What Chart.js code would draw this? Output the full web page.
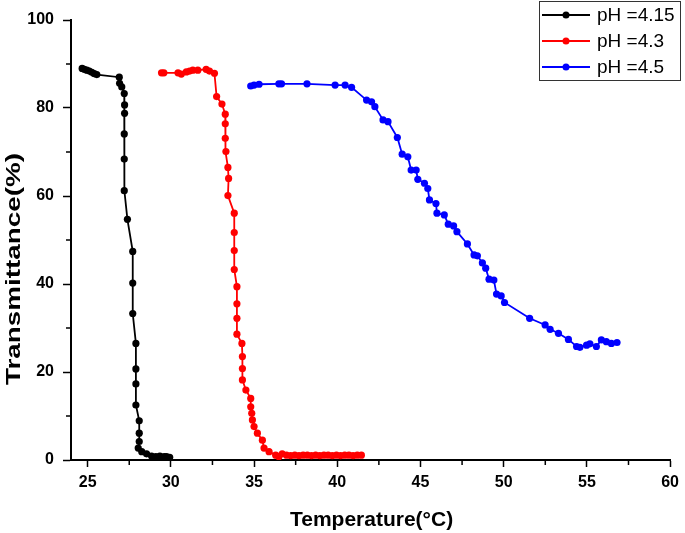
<!DOCTYPE html>
<html><head><meta charset="utf-8">
<script src="https://cdn.jsdelivr.net/npm/chart.js@4/dist/chart.umd.min.js"></script>
<style>html,body{margin:0;padding:0;background:#fff}canvas{display:block}</style>
</head><body>
<canvas id="c" width="685" height="533"></canvas>
<script>
const seriesLabels = ['pH =4.15', 'pH =4.3', 'pH =4.5'];
const seriesColors = ['#000000', '#ff0000', '#0000ff'];

const tempPH415 = [24.67,24.8,24.95,25.1,25.25,25.4,25.55,26.9,26.92,27.05,27.2,27.22,27.22,27.2,27.2,27.2,27.39,27.71,27.71,27.71,27.9,27.9,27.9,27.9,28.1,28.1,28.1,28.04,28.25,28.54,28.84,29.1,29.34,29.6,29.74,29.93];
const transPH415 = [89.0,88.8,88.6,88.4,88.1,87.8,87.6,87.0,85.6,84.8,83.3,80.7,78.8,74.1,68.4,61.2,54.7,47.4,40.2,33.3,26.5,20.7,17.3,12.5,8.9,6.1,4.2,2.7,1.9,1.4,0.9,0.8,0.9,0.8,0.8,0.6];

const tempPH43 = [29.44,29.58,30.43,30.63,30.93,31.13,31.32,31.62,32.12,32.32,32.62,32.75,33.07,33.27,33.27,33.27,33.31,33.43,33.47,33.43,33.81,33.81,33.81,33.81,33.97,33.97,33.97,33.97,34.27,34.3,34.3,34.3,34.51,34.8,34.8,34.86,34.9,35.0,35.2,35.5,35.6,35.9,36.3,36.49,36.69,36.95,37.2,37.45,37.7,37.95,38.2,38.45,38.7,38.95,39.2,39.45,39.7,39.95,40.2,40.45,40.7,40.95,41.2,41.45];
const transPH43 = [88.0,88.0,88.0,87.7,88.2,88.4,88.6,88.6,88.8,88.4,87.9,82.6,80.9,78.6,76.4,73.1,70.1,66.5,64.0,60.1,56.1,51.7,47.6,43.3,39.4,35.5,32.2,28.6,26.5,23.5,20.8,18.2,15.9,14.0,12.1,10.6,9.1,7.6,6.1,4.5,2.7,1.9,1.1,0.75,1.4,1.1,1.0,1.1,1.0,1.1,1.1,1.0,1.1,1.0,1.1,1.1,1.0,1.1,1.0,1.1,1.1,1.0,1.1,1.1];

const tempPH45 = [34.8,35.0,35.3,36.49,36.65,38.18,39.87,40.47,40.86,41.76,42.06,42.26,42.75,43.05,43.61,43.9,44.24,44.44,44.74,44.84,45.24,45.44,45.54,45.93,45.99,46.43,46.67,46.99,47.19,47.82,48.22,48.42,48.72,48.92,49.12,49.41,49.57,49.85,50.05,51.56,52.49,52.79,53.29,53.89,54.38,54.58,54.98,55.18,55.57,55.87,56.17,56.47,56.81];
const transPH45 = [85.0,85.2,85.4,85.5,85.5,85.5,85.2,85.2,84.7,81.8,81.4,80.3,77.3,76.9,73.3,69.5,68.9,65.9,65.9,63.8,62.9,61.7,59.1,58.3,56.1,55.7,53.6,53.2,51.9,49.1,46.6,46.4,44.8,43.6,41.1,40.9,37.7,37.3,35.8,32.2,30.7,29.7,28.8,27.4,25.8,25.6,26.1,26.4,25.8,27.3,26.9,26.5,26.7];

const xMajorTicks = [25, 30, 35, 40, 45, 50, 55, 60];
const xMinorTicks = [27.5, 32.5, 37.5, 42.5, 47.5, 52.5, 57.5];
const yMajorTicks = [0, 20, 40, 60, 80, 100];
const yMinorTicks = [10, 30, 50, 70, 90];
const xTitle = 'Temperature(°C)';
const yTitle = 'Transmittance(%)';

const FONT = '"Liberation Sans", Arial, sans-serif';
const toPts = (xs, ys) => xs.map((x, i) => ({x: x, y: ys[i]}));
const allTemps = [tempPH415, tempPH43, tempPH45];
const allTrans = [transPH415, transPH43, transPH45];

const datasets = seriesLabels.map((lab, i) => ({
  label: lab,
  data: toPts(allTemps[i], allTrans[i]),
  borderColor: seriesColors[i],
  backgroundColor: seriesColors[i],
  pointBackgroundColor: seriesColors[i],
  pointBorderColor: seriesColors[i],
  pointBorderWidth: 0,
  pointRadius: 3.6,
  borderWidth: 1.8,
  tension: 0,
  fill: false
}));

const decor = {
  id: 'decor',
  afterDraw(chart) {
    const ctx = chart.ctx;
    const xs = chart.scales.x, ys = chart.scales.y;
    const ca = chart.chartArea;
    ctx.save();
    ctx.strokeStyle = '#000';
    ctx.lineWidth = 1.5;
    ctx.beginPath();
    xMinorTicks.forEach(v => { const p = xs.getPixelForValue(v); ctx.moveTo(p, ca.bottom); ctx.lineTo(p, ca.bottom + 5); });
    yMinorTicks.forEach(v => { const p = ys.getPixelForValue(v); ctx.moveTo(ca.left, p); ctx.lineTo(ca.left - 5, p); });
    ctx.stroke();

    // axis titles
    ctx.fillStyle = '#000';
    ctx.font = 'bold 21px ' + FONT;
    ctx.textAlign = 'center';
    ctx.textBaseline = 'alphabetic';
    ctx.fillText(xTitle, (ca.left + ca.right) / 2 + 1, 526);

    ctx.save();
    ctx.translate(20, 269);
    ctx.rotate(-Math.PI / 2);
    ctx.font = 'bold 21px ' + FONT;
    const w = ctx.measureText(yTitle).width;
    ctx.scale(232 / w, 1);
    ctx.fillText(yTitle, 0, 0);
    ctx.restore();

    // legend
    ctx.lineWidth = 1;
    ctx.strokeStyle = '#333';
    ctx.strokeRect(539.5, 1.5, 141, 79);
    const rows = [15, 41, 67];
    ctx.font = '19px ' + FONT;
    ctx.textAlign = 'left';
    ctx.textBaseline = 'middle';
    chart.data.datasets.forEach((ds, i) => {
      const y = rows[i];
      ctx.strokeStyle = ds.borderColor;
      ctx.lineWidth = 2;
      ctx.beginPath(); ctx.moveTo(542, y); ctx.lineTo(590, y); ctx.stroke();
      ctx.fillStyle = ds.borderColor;
      ctx.beginPath(); ctx.arc(566, y, 3.5, 0, Math.PI * 2); ctx.fill();
      ctx.fillStyle = '#000';
      ctx.fillText(ds.label, 597, y + 1);
    });
    ctx.restore();
  }
};

new Chart(document.getElementById('c').getContext('2d'), {
  type: 'line',
  data: {datasets: datasets},
  options: {
    responsive: false,
    animation: false,
    layout: {padding: {left: 0, right: 11, top: 20, bottom: 0}},
    plugins: {legend: {display: false}, tooltip: {enabled: false}},
    scales: {
      x: {
        type: 'linear', min: 24, max: 60,
        afterBuildTicks: s => { s.ticks = xMajorTicks.map(v => ({value: v})); },
        afterFit: s => { s.height = 73; },
        border: {display: true, color: '#000', width: 2},
        grid: {drawOnChartArea: false, drawTicks: true, tickLength: 7, tickColor: '#000', tickWidth: 1.5},
        ticks: {color: '#000', font: {family: FONT, size: 16, weight: 'bold'}, padding: 6, maxRotation: 0, autoSkip: false}
      },
      y: {
        type: 'linear', min: 0, max: 100,
        afterBuildTicks: s => { s.ticks = yMajorTicks.map(v => ({value: v})); },
        afterFit: s => { s.width = 71; },
        border: {display: true, color: '#000', width: 2},
        grid: {drawOnChartArea: false, drawTicks: true, tickLength: 8, tickColor: '#000', tickWidth: 1.5},
        ticks: {color: '#000', font: {family: FONT, size: 16, weight: 'bold'}, padding: 9, autoSkip: false}
      }
    }
  },
  plugins: [decor]
});
</script>
</body></html>
